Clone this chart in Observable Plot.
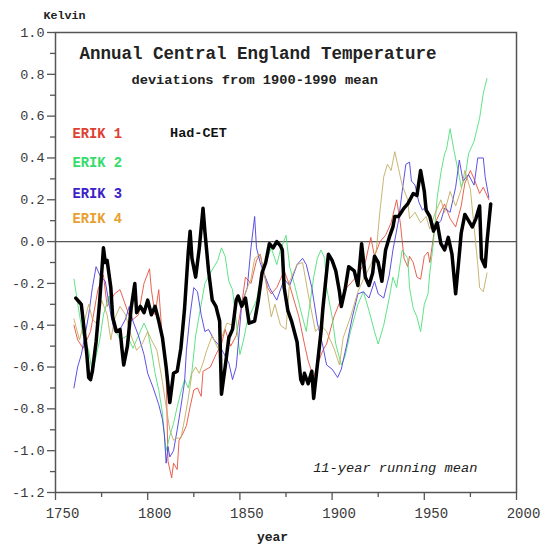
<!DOCTYPE html>
<html>
<head>
<meta charset="utf-8">
<script src="https://cdn.jsdelivr.net/npm/d3@7"></script>
<script src="https://cdn.jsdelivr.net/npm/@observablehq/plot@0.6"></script>
<style>
  html, body { margin: 0; padding: 0; background: white; }
</style>
</head>
<body>
<div id="chart"></div>
<script>
const hadYears = [1761,1763,1764,1765,1767,1768,1769,1770,1772,1774,1776,1777,1778,1780,1781,1783,1785,1786,1787,1789,1791,1793,1794,1796,1798,1800,1802,1804,1806,1808,1810,1812,1814,1816,1818,1820,1822,1823,1824,1826,1828,1830,1831,1833,1835,1837,1839,1840,1842,1844,1846,1848,1849,1851,1853,1855,1858,1860,1862,1864,1866,1868,1870,1872,1873,1874,1876,1878,1881,1883,1884,1885,1887,1889,1890,1892,1894,1895,1898,1900,1902,1904,1905,1907,1909,1912,1914,1916,1918,1920,1922,1923,1925,1927,1929,1931,1933,1934,1936,1939,1941,1944,1946,1948,1950,1951,1953,1955,1957,1959,1961,1963,1965,1967,1969,1970,1972,1974,1976,1978,1980,1981,1983,1984,1986];
const hadValues = [-0.27,-0.29,-0.30,-0.38,-0.54,-0.65,-0.66,-0.62,-0.48,-0.28,-0.03,-0.10,-0.09,-0.22,-0.36,-0.43,-0.42,-0.51,-0.59,-0.50,-0.32,-0.20,-0.34,-0.31,-0.34,-0.28,-0.35,-0.31,-0.38,-0.46,-0.60,-0.77,-0.63,-0.62,-0.51,-0.32,-0.05,0.05,-0.08,-0.17,-0.03,0.16,0.05,-0.14,-0.28,-0.31,-0.38,-0.73,-0.60,-0.46,-0.42,-0.28,-0.26,-0.31,-0.27,-0.39,-0.38,-0.28,-0.15,-0.10,-0.01,-0.03,0.00,-0.02,-0.04,-0.22,-0.33,-0.38,-0.48,-0.66,-0.68,-0.63,-0.68,-0.62,-0.75,-0.59,-0.43,-0.32,-0.06,-0.09,-0.14,-0.24,-0.31,-0.23,-0.12,-0.14,-0.21,-0.01,-0.17,-0.21,-0.15,-0.07,-0.10,-0.19,-0.04,0.02,0.07,0.12,0.12,0.16,0.18,0.23,0.22,0.34,0.24,0.15,0.12,0.05,0.09,-0.01,-0.04,0.02,-0.06,-0.25,-0.06,0.04,0.13,0.10,0.07,0.11,0.17,-0.08,-0.12,0.00,0.18];

const erik1Years = [1760,1762,1765,1769,1773,1776,1778,1782,1785,1787,1791,1795,1798,1801,1802,1804,1806,1808,1810,1811,1813,1814,1816,1817,1819,1821,1823,1825,1827,1829,1830,1834,1837,1840,1842,1845,1848,1851,1853,1856,1859,1861,1863,1865,1867,1870,1874,1877,1879,1882,1885,1887,1890,1892,1895,1897,1901,1905,1908,1912,1915,1918,1921,1923,1926,1929,1932,1935,1937,1939,1941,1942,1944,1946,1948,1950,1952,1953,1956,1958,1961,1964,1967,1970,1972,1975,1977,1980,1982,1985];
const erik1Values = [-0.40,-0.47,-0.51,-0.43,-0.23,-0.16,-0.31,-0.25,-0.23,-0.28,-0.38,-0.35,-0.20,-0.13,-0.23,-0.35,-0.23,-0.47,-0.62,-1.05,-1.13,-1.06,-1.09,-0.95,-0.92,-0.88,-0.79,-0.71,-0.70,-0.74,-0.62,-0.60,-0.54,-0.49,-0.42,-0.50,-0.45,-0.30,-0.17,-0.20,-0.09,-0.06,-0.15,-0.22,-0.25,-0.22,-0.14,-0.21,-0.27,-0.36,-0.49,-0.57,-0.65,-0.59,-0.52,-0.49,-0.36,-0.27,-0.22,-0.18,-0.14,-0.10,0.02,-0.07,0.00,0.03,0.09,0.20,0.09,-0.08,-0.12,-0.07,-0.10,-0.17,-0.18,-0.07,-0.05,-0.10,0.09,0.13,0.18,0.11,0.07,0.17,0.28,0.34,0.30,0.23,0.26,0.20];

const erik2Years = [1760,1763,1765,1768,1770,1772,1774,1776,1779,1781,1785,1789,1792,1794,1798,1800,1802,1804,1806,1808,1809,1810,1812,1814,1816,1818,1820,1822,1824,1826,1829,1831,1834,1838,1840,1842,1844,1846,1848,1850,1852,1854,1857,1859,1862,1865,1867,1870,1872,1875,1877,1880,1883,1886,1887,1890,1892,1894,1896,1897,1900,1902,1905,1907,1910,1914,1917,1920,1923,1925,1928,1931,1933,1935,1938,1941,1942,1944,1946,1948,1950,1952,1953,1955,1957,1959,1961,1962,1964,1966,1969,1970,1972,1974,1977,1980,1982,1984];
const erik2Values = [-0.18,-0.35,-0.45,-0.52,-0.63,-0.55,-0.47,-0.35,-0.26,-0.39,-0.47,-0.45,-0.51,-0.47,-0.39,-0.43,-0.52,-0.63,-0.71,-0.82,-0.92,-1.00,-0.93,-0.87,-0.79,-0.72,-0.66,-0.70,-0.62,-0.45,-0.30,-0.20,-0.15,-0.09,-0.03,-0.07,-0.19,-0.23,-0.38,-0.54,-0.47,-0.38,-0.32,-0.28,-0.15,-0.08,-0.03,-0.11,-0.04,0.03,-0.12,-0.22,-0.33,-0.43,-0.36,-0.17,-0.08,-0.04,-0.08,-0.22,-0.36,-0.49,-0.59,-0.55,-0.43,-0.30,-0.24,-0.33,-0.43,-0.49,-0.40,-0.27,-0.17,-0.22,-0.04,-0.08,-0.22,-0.32,-0.36,-0.43,-0.30,-0.25,-0.15,0.00,0.21,0.33,0.42,0.44,0.54,0.44,0.31,0.26,0.30,0.42,0.48,0.59,0.71,0.78];

const erik3Years = [1760,1762,1764,1766,1768,1770,1772,1774,1777,1780,1782,1785,1788,1790,1792,1795,1798,1800,1803,1806,1808,1809,1810,1811,1812,1814,1816,1818,1820,1821,1823,1825,1827,1829,1831,1833,1836,1839,1841,1844,1846,1848,1851,1854,1856,1858,1859,1861,1863,1866,1870,1874,1877,1881,1884,1886,1889,1892,1895,1897,1900,1903,1905,1908,1911,1914,1917,1920,1923,1925,1928,1931,1933,1936,1938,1940,1942,1943,1945,1947,1949,1951,1953,1956,1959,1961,1964,1967,1969,1971,1974,1977,1979,1982,1983,1985];
const erik3Values = [-0.70,-0.60,-0.54,-0.45,-0.35,-0.22,-0.12,-0.16,-0.19,-0.35,-0.43,-0.42,-0.37,-0.31,-0.38,-0.45,-0.54,-0.63,-0.70,-0.78,-0.85,-0.92,-1.06,-0.98,-1.03,-1.00,-0.90,-0.79,-0.67,-0.52,-0.35,-0.22,-0.24,-0.35,-0.43,-0.42,-0.47,-0.50,-0.53,-0.58,-0.66,-0.60,-0.30,-0.22,-0.03,0.12,-0.03,-0.10,-0.15,-0.22,-0.28,-0.18,-0.21,-0.11,-0.08,-0.11,-0.22,-0.39,-0.50,-0.59,-0.61,-0.65,-0.61,-0.49,-0.36,-0.25,-0.24,-0.27,-0.19,-0.25,-0.27,-0.16,-0.04,0.10,0.24,0.37,0.38,0.29,0.27,0.19,0.15,0.17,0.11,0.07,0.10,0.16,0.14,0.26,0.39,0.29,0.32,0.27,0.40,0.40,0.31,0.21];

const erik4Years = [1760,1763,1766,1768,1770,1773,1775,1778,1780,1782,1785,1788,1791,1794,1797,1800,1802,1805,1808,1810,1812,1814,1816,1818,1820,1822,1824,1826,1828,1830,1832,1835,1838,1840,1843,1846,1848,1851,1854,1856,1858,1861,1864,1867,1869,1872,1875,1877,1881,1884,1887,1891,1894,1897,1901,1904,1906,1910,1914,1917,1921,1924,1926,1928,1930,1932,1934,1936,1938,1941,1942,1945,1948,1951,1953,1956,1959,1961,1964,1967,1970,1972,1975,1977,1979,1980,1982,1984];
const erik4Values = [-0.37,-0.47,-0.37,-0.30,-0.37,-0.40,-0.28,-0.35,-0.47,-0.37,-0.31,-0.35,-0.45,-0.52,-0.49,-0.43,-0.47,-0.52,-0.67,-0.79,-0.90,-0.95,-0.94,-0.94,-0.85,-0.75,-0.63,-0.60,-0.63,-0.58,-0.52,-0.45,-0.51,-0.46,-0.39,-0.40,-0.28,-0.30,-0.22,-0.18,-0.08,-0.06,-0.19,-0.36,-0.30,-0.40,-0.42,-0.19,-0.11,-0.10,-0.25,-0.43,-0.40,-0.43,-0.51,-0.59,-0.46,-0.36,-0.24,-0.18,-0.11,-0.04,0.15,0.31,0.37,0.34,0.43,0.35,0.27,0.20,0.11,0.14,0.09,0.12,0.06,0.14,0.20,0.14,0.24,0.17,0.25,0.34,0.25,0.07,-0.11,-0.22,-0.24,-0.15];

const seriesNames = ["ERIK 1", "ERIK 2", "ERIK 3", "ERIK 4"];
const referenceName = "Had-CET";
const yTicks = [-1.2, -1.0, -0.8, -0.6, -0.4, -0.2, 0.0, 0.2, 0.4, 0.6, 0.8, 1.0];
const yMinorTicks = [-1.1, -0.9, -0.7, -0.5, -0.3, -0.1, 0.1, 0.3, 0.5, 0.7, 0.9];
const xTicks = [1750, 1800, 1850, 1900, 1950, 2000];
const xMinorTicks = [1775, 1825, 1875, 1925, 1975];

const lineColors = ["#e8503f", "#4fe07a", "#4a3ee0", "#c2ad62"];
const labelColors = ["#e0402f", "#35dc6a", "#3a22c8", "#e8a030"];

function rows(years, values) { return years.map((y, i) => ({year: y, value: values[i]})); }
const erikData = [
  rows(erik1Years, erik1Values),
  rows(erik2Years, erik2Values),
  rows(erik3Years, erik3Values),
  rows(erik4Years, erik4Values)
];
const hadData = rows(hadYears, hadValues);

const FONT = "'Liberation Mono', 'DejaVu Sans Mono', monospace";
const legendY = [0.517, 0.378, 0.23, 0.11];
const noLabel = () => "";

const chart = Plot.plot({
  width: 542,
  height: 546,
  marginLeft: 55,
  marginRight: 26,
  marginTop: 32,
  marginBottom: 54,
  x: {domain: [1750, 2000]},
  y: {domain: [-1.2, 1.0]},
  style: {fontFamily: FONT, background: "white", color: "#3a3a3a", overflow: "visible"},
  marks: [
    Plot.ruleY([0], {stroke: "#555", strokeWidth: 1.2}),
    ...erikData.map((d, i) => Plot.line(d, {x: "year", y: "value", stroke: lineColors[i], strokeWidth: 1, strokeOpacity: 0.9})),
    Plot.line(hadData, {x: "year", y: "value", stroke: "#000", strokeWidth: 3.5, strokeLinejoin: "round"}),
    Plot.frame({stroke: "#555", strokeWidth: 1.5}),
    Plot.axisY(yTicks, {tickSize: 8, tickPadding: 3, fontSize: 13.5, tickFormat: d => d.toFixed(1), stroke: "#555", strokeWidth: 1.3, label: null}),
    Plot.axisY(yMinorTicks, {tickSize: 5, tickFormat: noLabel, stroke: "#555", strokeWidth: 1.3, label: null}),
    Plot.axisX(xTicks, {tickSize: 8, tickFormat: noLabel, stroke: "#555", strokeWidth: 1.3, label: null}),
    Plot.axisX(xMinorTicks, {tickSize: 5, tickFormat: noLabel, stroke: "#555", strokeWidth: 1.3, label: null}),
    Plot.axisX(xTicks, {tickSize: 0, tickPadding: 16, dx: 7, fontSize: 14, tickFormat: d => String(d), label: null}),
    Plot.text(["Annual Central England Temperature"], {x: 1859.8, y: 0.90, fontSize: 17.5, fontWeight: "bold", fill: "#222", fontFamily: FONT}),
    Plot.text(["deviations from 1900-1990 mean"], {x: 1858, y: 0.775, fontSize: 13.7, fontWeight: "bold", fill: "#222", fontFamily: FONT}),
    Plot.text([referenceName], {x: 1827.5, y: 0.52, fontSize: 13.5, fontWeight: "bold", fill: "#111", fontFamily: FONT}),
    ...seriesNames.map((name, i) => Plot.text([name], {x: 1759.2, y: legendY[i], textAnchor: "start", fontSize: 13.8, fontWeight: "bold", fill: labelColors[i], fontFamily: FONT})),
    Plot.text(["11-year running mean"], {x: 1978.8, y: -1.08, textAnchor: "end", fontSize: 13.7, fontStyle: "italic", fill: "#222", fontFamily: FONT}),
    Plot.text(["Kelvin"], {x: 1754.9, y: 1.081, fontSize: 11.7, fontWeight: "bold", fill: "#222", fontFamily: FONT}),
    Plot.text(["year"], {x: 1867.7, y: -1.41, fontSize: 13, fontWeight: "bold", fill: "#222", fontFamily: FONT})
  ]
});
document.getElementById("chart").appendChild(chart);
</script>
</body>
</html>
